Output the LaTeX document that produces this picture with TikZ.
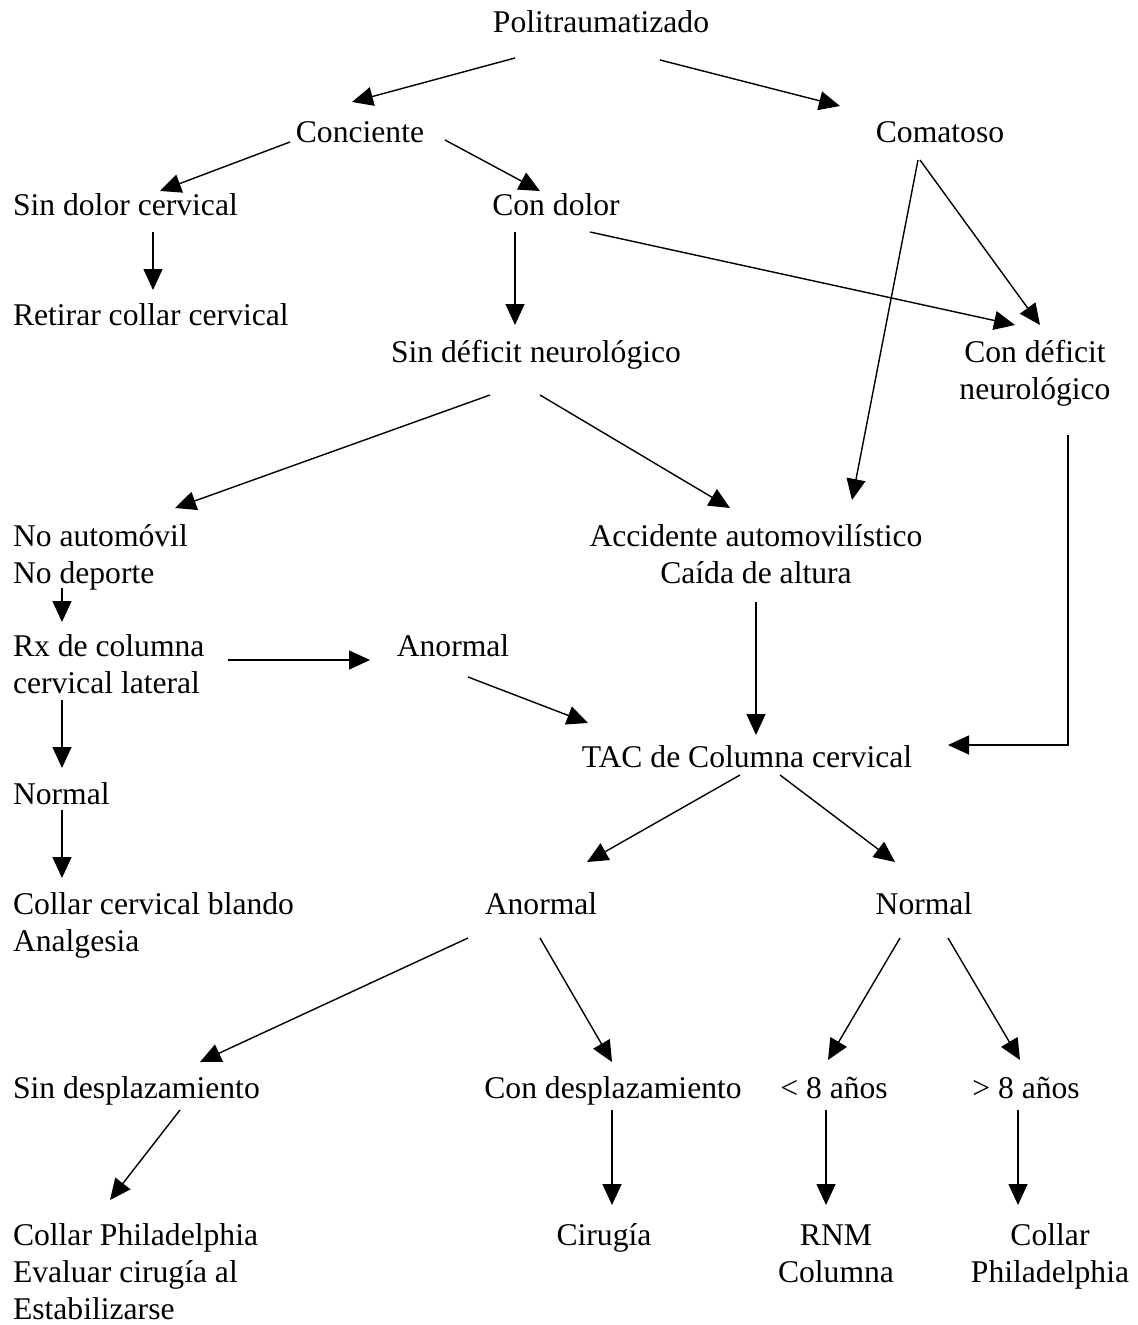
\documentclass[tikz,border=0pt]{standalone}
\usepackage{fontspec}
\setmainfont{Liberation Serif}
\usetikzlibrary{arrows.meta,calc}

\begin{document}
\begin{tikzpicture}[
  x=0.02cm, y=-0.02cm,
  every node/.style={font=\fontsize{18pt}{21pt}\selectfont, inner sep=0pt, outer sep=0pt},
  lft/.style={anchor=base west, align=left},
  ctr/.style={anchor=base, align=center},
  arr/.style={draw, line width=0.8pt, -{Triangle[length=0.42cm, width=0.38cm]}}
]
\useasboundingbox (0,0) rectangle (1138,1325);

% Root node
\node[ctr] (poli) at (601,32) {Politraumatizado};

% First level
\node[ctr] (conc) at (360,142) {Conciente};
\node[ctr] (coma) at (940,142) {Comatoso};

\node[lft] (sindolor) at (13,215) {Sin dolor cervical};
\node[ctr] (condolor) at (556,215) {Con dolor};
\node[lft] (retirar) at (13,325) {Retirar collar cervical};
\node[ctr] (sindef) at (536,362) {Sin déficit neurológico};
\node[ctr] (condef) at (1035,399) {Con déficit\\neurológico};

% Middle part (base = last line)
\node[lft] (noauto) at (13,583) {No automóvil\\No deporte};
\node[ctr] (accid) at (756,583) {Accidente automovilístico\\Caída de altura};
\node[lft] (rx) at (13,693) {Rx de columna\\cervical lateral};
\node[ctr] (anorm1) at (453,656) {Anormal};
\node[ctr] (tac) at (747,767) {TAC de Columna cervical};
\node[lft] (normal1) at (13,804) {Normal};
\node[lft] (blando) at (13,951) {Collar cervical blando\\Analgesia};
\node[ctr] (anorm2) at (541,914) {Anormal};
\node[ctr] (normal2) at (924,914) {Normal};

% Bottom part
\node[lft] (sindesp) at (13,1098) {Sin desplazamiento};
\node[ctr] (condesp) at (613,1098) {Con desplazamiento};
\node[ctr] (menor) at (834,1098) {< 8 años};
\node[ctr] (mayor) at (1026,1098) {> 8 años};
\node[lft] (phila) at (13,1319) {Collar Philadelphia\\Evaluar cirugía al\\Estabilizarse};
\node[ctr] (cirugia) at (604,1245) {Cirugía};
\node[ctr] (rnm) at (836,1282) {RNM\\Columna};
\node[ctr] (collar) at (1050,1282) {Collar\\Philadelphia};

% Arrows
\draw[arr] ($(poli.base)+(-86,26)$) -- ($(conc.base)+(-8,-40)$);
\draw[arr] ($(poli.base)+(59,28)$) -- ($(coma.base)+(-100,-36)$);
\draw[arr] ($(conc.base)+(-70,0)$) -- ($(sindolor.base west)+(147,-24)$);
\draw[arr] ($(conc.base)+(85,-2)$) -- ($(condolor.base)+(-16,-24)$);
\draw[arr] ($(sindolor.base west)+(140,17)$) -- ($(retirar.base west)+(140,-35)$);
\draw[arr] ($(condolor.base)+(-41,17)$) -- ($(sindef.base)+(-21,-37)$);
\draw[arr] ($(condolor.base)+(34,17)$) -- ($(condef.base)+(-20,-74)$);
\draw[arr] ($(coma.base)+(-20,18)$) -- ($(condef.base)+(5,-74)$);
\draw[arr] ($(coma.base)+(-22,18)$) -- ($(accid.base)+(96,-83)$);
\draw[arr] ($(sindef.base)+(-46,33)$) -- ($(noauto.base west)+(162,-75)$);
\draw[arr] ($(sindef.base)+(4,33)$) -- ($(accid.base)+(-26,-75)$);
\draw[arr] ($(noauto.base west)+(49,5)$) -- ($(rx.base west)+(49,-71)$);
\draw[arr] ($(rx.base west)+(215,-33)$) -- ($(anorm1.base)+(-83,4)$);
\draw[arr] ($(anorm1.base)+(15,21)$) -- ($(tac.base)+(-159,-44)$);
\draw[arr] ($(accid.base)+(0,19)$) -- ($(tac.base)+(9,-32)$);
\draw[arr] ($(condef.base)+(33,36)$) |- ($(tac.base)+(201,-22)$);
\draw[arr] ($(rx.base west)+(49,7)$) -- ($(normal1.base west)+(49,-36)$);
\draw[arr] ($(normal1.base west)+(49,6)$) -- ($(blando.base west)+(49,-73)$);
\draw[arr] ($(tac.base)+(-7,8)$) -- ($(anorm2.base)+(46,-52)$);
\draw[arr] ($(tac.base)+(33,8)$) -- ($(normal2.base)+(-29,-52)$);
\draw[arr] ($(anorm2.base)+(-73,24)$) -- ($(sindesp.base west)+(187,-36)$);
\draw[arr] ($(anorm2.base)+(-1,24)$) -- ($(condesp.base)+(-1,-36)$);
\draw[arr] ($(normal2.base)+(-24,24)$) -- ($(menor.base)+(-6,-38)$);
\draw[arr] ($(normal2.base)+(24,24)$) -- ($(mayor.base)+(-6,-38)$);
\draw[arr] ($(sindesp.base west)+(167,12)$) -- ($(phila.base west)+(97,-119)$);
\draw[arr] ($(condesp.base)+(-1,12)$) -- ($(cirugia.base)+(8,-40)$);
\draw[arr] ($(menor.base)+(-8,12)$) -- ($(rnm.base)+(-10,-77)$);
\draw[arr] ($(mayor.base)+(-8,12)$) -- ($(collar.base)+(-32,-77)$);
\end{tikzpicture}
\end{document}
